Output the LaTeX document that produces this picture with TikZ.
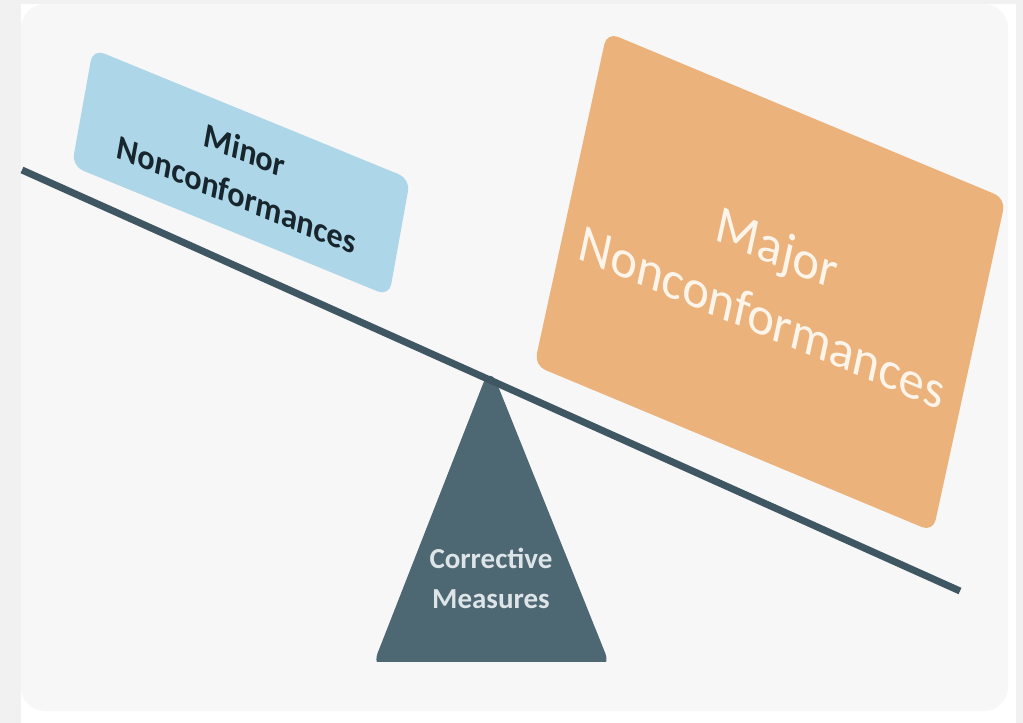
\documentclass[tikz,border=0pt]{standalone}
\usepackage{fontspec}
\setmainfont{Carlito}
\usetikzlibrary{positioning}
\definecolor{outerbg}{HTML}{F1F1F1}
\definecolor{panelbg}{HTML}{F7F7F7}
\definecolor{beamcol}{HTML}{3F5763}
\definecolor{fulcrumcol}{HTML}{4D6773}
\definecolor{minorcol}{HTML}{AED6E9}
\definecolor{majorcol}{HTML}{ECB27C}
\definecolor{minortext}{HTML}{17262D}
\definecolor{majortext}{HTML}{FDF4EA}
\definecolor{fulcrumtext}{HTML}{DDE5E8}

\begin{document}
\begin{tikzpicture}[x=1pt,y=-1pt,
		beam/.style={line width=7pt,draw=beamcol},
		plate/.style={rounded corners=12pt,inner sep=0pt,align=center,transform shape}]
		\useasboundingbox (0,0) rectangle (1023,723);
		\fill[outerbg] (0,0) rectangle (1023,723);
		\fill[white] (21,4) rectangle (1016,723);
		\fill[panelbg,rounded corners=24pt] (21,4) rectangle (1008,711);
		% fulcrum, cut flat at the bottom
		\begin{scope}
		\clip (300,300) rectangle (700,661);
		\fill[fulcrumcol,rounded corners=18pt] (490,366) -- (612,670) -- (371,670) -- cycle;
		\end{scope}
		\node[font=\bfseries\fontsize{29}{40}\selectfont,text=fulcrumtext,align=center] (measures) at (491,578) {Corrective\\Measures};
		\draw[beam] (22,170) -- (960,591);
		% the two weights, sheared like the picture
		\begin{scope}[shift={(241,172.5)},cm={0.925,-0.379,0.177,0.984,(0,0)}]
		\node[plate,fill=minorcol,minimum width=343pt,minimum height=119pt,
		font=\bfseries\fontsize{34}{45}\selectfont,text=minortext] (minor) {Minor\\Nonconformances};
		\end{scope}
		\begin{scope}[shift={(770,282)},cm={0.923,-0.385,0.213,0.977,(0,0)}]
		\node[plate,fill=majorcol,minimum width=432pt,minimum height=341pt,
		font=\fontsize{53}{71}\selectfont,text=majortext] (major) {Major\\Nonconformances};
		\end{scope}
		\end{tikzpicture}
\end{document}
